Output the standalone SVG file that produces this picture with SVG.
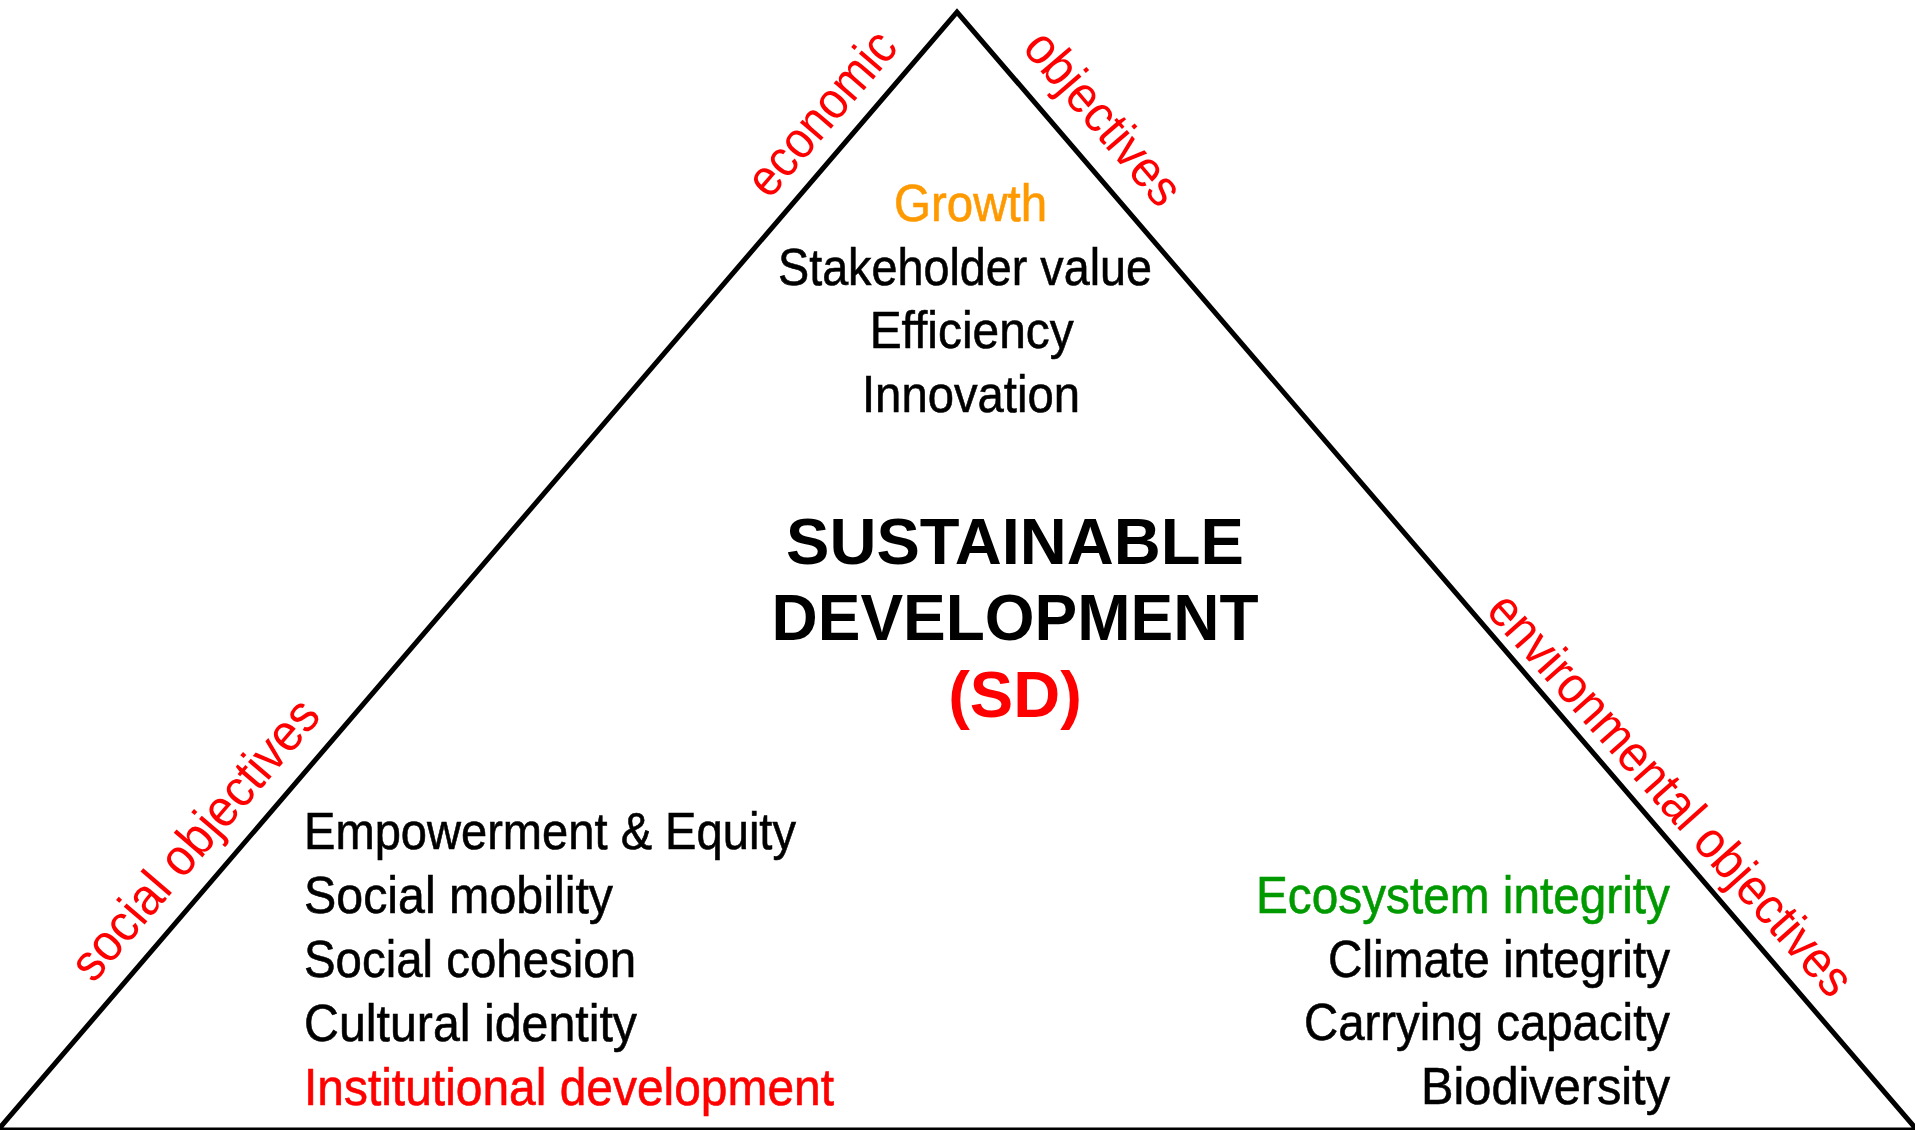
<svg xmlns="http://www.w3.org/2000/svg" width="1915" height="1130" viewBox="0 0 1915 1130">
<style>
.n{font-family:"Liberation Sans Narrow","Arial Narrow","Liberation Sans",Arial,sans-serif;font-size:52px;fill:#000;stroke:#000;stroke-width:0.6}
.lbl{font-family:"Liberation Sans Narrow","Arial Narrow","Liberation Sans",Arial,sans-serif;font-size:52px;fill:#ff0000}
.b{font-family:"Liberation Sans",Arial,sans-serif;font-size:65px;font-weight:bold;fill:#000;text-anchor:middle}
.red{fill:#ff0000;stroke:#ff0000}
.orange{fill:#ff9900;stroke:#ff9900}
.green{fill:#009900;stroke:#009900}
.tri{fill:none;stroke:#000;stroke-width:5;stroke-linejoin:miter}
</style>
<rect x="0" y="0" width="1915" height="1130" fill="#fff"/>
<g id="connectors">
<polygon class="tri" points="-2,1130 957,12 1917,1130"/>
</g>
<g id="label-economic">
<text class="lbl" text-anchor="middle" transform="translate(834.7,124.3) rotate(-49.37)" textLength="200" lengthAdjust="spacingAndGlyphs">economic</text>
</g>
<g id="label-objectives-top">
<text class="lbl" text-anchor="middle" transform="translate(1090.3,129.3) rotate(49.37)" textLength="212" lengthAdjust="spacingAndGlyphs">objectives</text>
</g>
<g id="label-social">
<text class="lbl" text-anchor="middle" transform="translate(208,850.6) rotate(-49.37)" textLength="352" lengthAdjust="spacingAndGlyphs">social objectives</text>
</g>
<g id="label-environmental">
<text class="lbl" text-anchor="middle" transform="translate(1657.8,805.9) rotate(48.3)" textLength="520" lengthAdjust="spacingAndGlyphs">environmental objectives</text>
</g>
<g id="economic-node">
<text class="n orange" x="970.6" y="221" text-anchor="middle" textLength="153" lengthAdjust="spacingAndGlyphs">Growth</text>
<text class="n" x="965" y="284.5" text-anchor="middle" textLength="374" lengthAdjust="spacingAndGlyphs">Stakeholder value</text>
<text class="n" x="971.7" y="348" text-anchor="middle" textLength="204" lengthAdjust="spacingAndGlyphs">Efficiency</text>
<text class="n" x="971" y="411.5" text-anchor="middle" textLength="218" lengthAdjust="spacingAndGlyphs">Innovation</text>
</g>
<g id="center-node">
<text class="b" x="1015" y="564" textLength="458" lengthAdjust="spacingAndGlyphs">SUSTAINABLE</text>
<text class="b" x="1015" y="639.5" textLength="487" lengthAdjust="spacingAndGlyphs">DEVELOPMENT</text>
<text class="b" x="1015" y="716.5" fill="#ff0000" style="fill:#ff0000">(SD)</text>
</g>
<g id="social-node">
<text class="n" x="304" y="848.5" textLength="492" lengthAdjust="spacingAndGlyphs">Empowerment &amp; Equity</text>
<text class="n" x="304" y="912.5" textLength="309" lengthAdjust="spacingAndGlyphs">Social mobility</text>
<text class="n" x="304" y="976.5" textLength="332" lengthAdjust="spacingAndGlyphs">Social cohesion</text>
<text class="n" x="304" y="1040.5" textLength="333" lengthAdjust="spacingAndGlyphs">Cultural identity</text>
<text class="n red" x="304" y="1104.5" textLength="530" lengthAdjust="spacingAndGlyphs">Institutional development</text>
</g>
<g id="environmental-node">
<text class="n green" x="1670" y="912.5" text-anchor="end" textLength="414" lengthAdjust="spacingAndGlyphs">Ecosystem integrity</text>
<text class="n" x="1670" y="976.5" text-anchor="end" textLength="342" lengthAdjust="spacingAndGlyphs">Climate integrity</text>
<text class="n" x="1670" y="1040" text-anchor="end" textLength="366" lengthAdjust="spacingAndGlyphs">Carrying capacity</text>
<text class="n" x="1670" y="1103.5" text-anchor="end" textLength="249" lengthAdjust="spacingAndGlyphs">Biodiversity</text>
</g>
</svg>
